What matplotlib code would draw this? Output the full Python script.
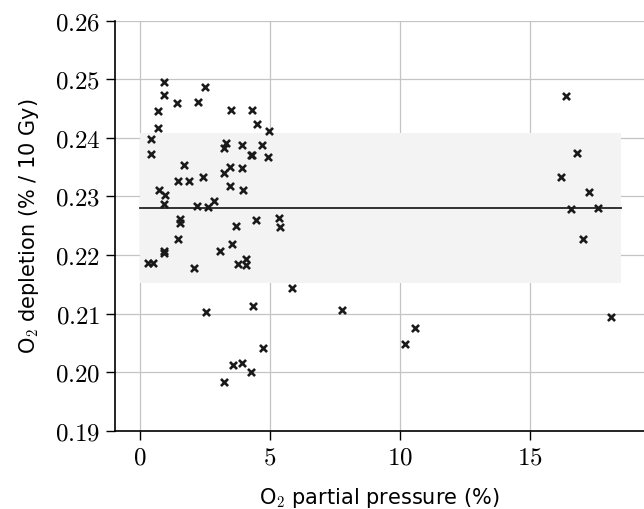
import numpy as np
from matplotlib import pyplot as plt

# O2 partial pressure (%) and O2 depletion (% / 10 Gy)
pressure = [0.94, 0.94, 2.49, 0.68, 1.42, 2.24, 0.69, 0.44, 0.44, 3.50,
            4.32, 4.49, 4.97, 4.93, 3.32, 3.23, 3.92, 4.69, 4.26, 4.33,
            1.69, 3.46, 3.22, 3.92, 1.45, 1.90, 2.41, 3.45, 3.97, 0.73,
            0.97, 0.92, 2.18, 2.63, 2.86, 1.54, 1.54, 3.68, 4.45, 5.36,
            5.40, 1.46, 0.91, 0.91, 3.08, 3.54, 0.30, 0.51, 2.08, 3.76,
            4.10, 4.10, 5.84, 2.55, 4.36, 4.72, 3.60, 3.92, 4.26, 3.24,
            7.77, 10.58, 10.22, 16.40, 16.83, 16.20, 17.28, 16.58, 17.62, 17.05,
            18.13]
depletion = [0.2495, 0.2473, 0.2487, 0.2446, 0.2460, 0.2461, 0.2417, 0.2398, 0.2373, 0.2447,
             0.2447, 0.2424, 0.2412, 0.2367, 0.2392, 0.2383, 0.2388, 0.2387, 0.2371, 0.2371,
             0.2354, 0.2350, 0.2340, 0.2349, 0.2326, 0.2326, 0.2334, 0.2318, 0.2311, 0.2311,
             0.2302, 0.2287, 0.2284, 0.2282, 0.2292, 0.2261, 0.2254, 0.2249, 0.2260, 0.2264,
             0.2247, 0.2227, 0.2207, 0.2203, 0.2206, 0.2219, 0.2187, 0.2186, 0.2177, 0.2185,
             0.2193, 0.2183, 0.2143, 0.2103, 0.2113, 0.2042, 0.2012, 0.2016, 0.2000, 0.1983,
             0.2106, 0.2075, 0.2048, 0.2471, 0.2374, 0.2333, 0.2307, 0.2279, 0.2281, 0.2228,
             0.2095]

mean_depletion = 0.228
band_low, band_high = 0.2152, 0.2408
band_x = [0, 18.5]

xticks = [0, 5, 10, 15]
yticks = [0.19, 0.20, 0.21, 0.22, 0.23, 0.24, 0.25, 0.26]

plt.rcParams['mathtext.fontset'] = 'cm'
plt.rcParams['font.family'] = ['DejaVu Sans']

fig = plt.figure(figsize=(6.44, 5.09), dpi=100)
ax = fig.add_axes([0.1786, 0.1538, 0.8214, 0.8055])

ax.fill_between(band_x, band_low, band_high, color='#f3f3f3', lw=0, zorder=1)
ax.plot(band_x, [mean_depletion, mean_depletion], color='#222222', lw=1.3, zorder=3)
ax.scatter(pressure, depletion, marker='x', s=26, color='#1a1a1a', linewidths=1.9, zorder=4)

ax.set_xlim(-0.96, 19.4)
ax.set_ylim(0.19, 0.26)
ax.set_xticks(xticks)
ax.set_yticks(yticks)
ax.set_xticklabels([f'${t}$' for t in xticks])
ax.set_yticklabels([f'${t:.2f}$' for t in yticks])
ax.tick_params(labelsize=18, length=6.5, width=1.0, color='black', pad=4)

ax.grid(True, color='#c4c4c4', lw=0.9, zorder=0)
ax.set_axisbelow(True)
for side in ['top', 'right']:
    ax.spines[side].set_visible(False)
for side in ['left', 'bottom']:
    ax.spines[side].set_linewidth(1.2)

ax.set_xlabel(r'O$_2$ partial pressure (%)', fontsize=15, labelpad=12)
ax.set_ylabel(r'O$_2$ depletion (% / 10 Gy)', fontsize=15, labelpad=10)

fig.savefig('out.png', dpi=100)
